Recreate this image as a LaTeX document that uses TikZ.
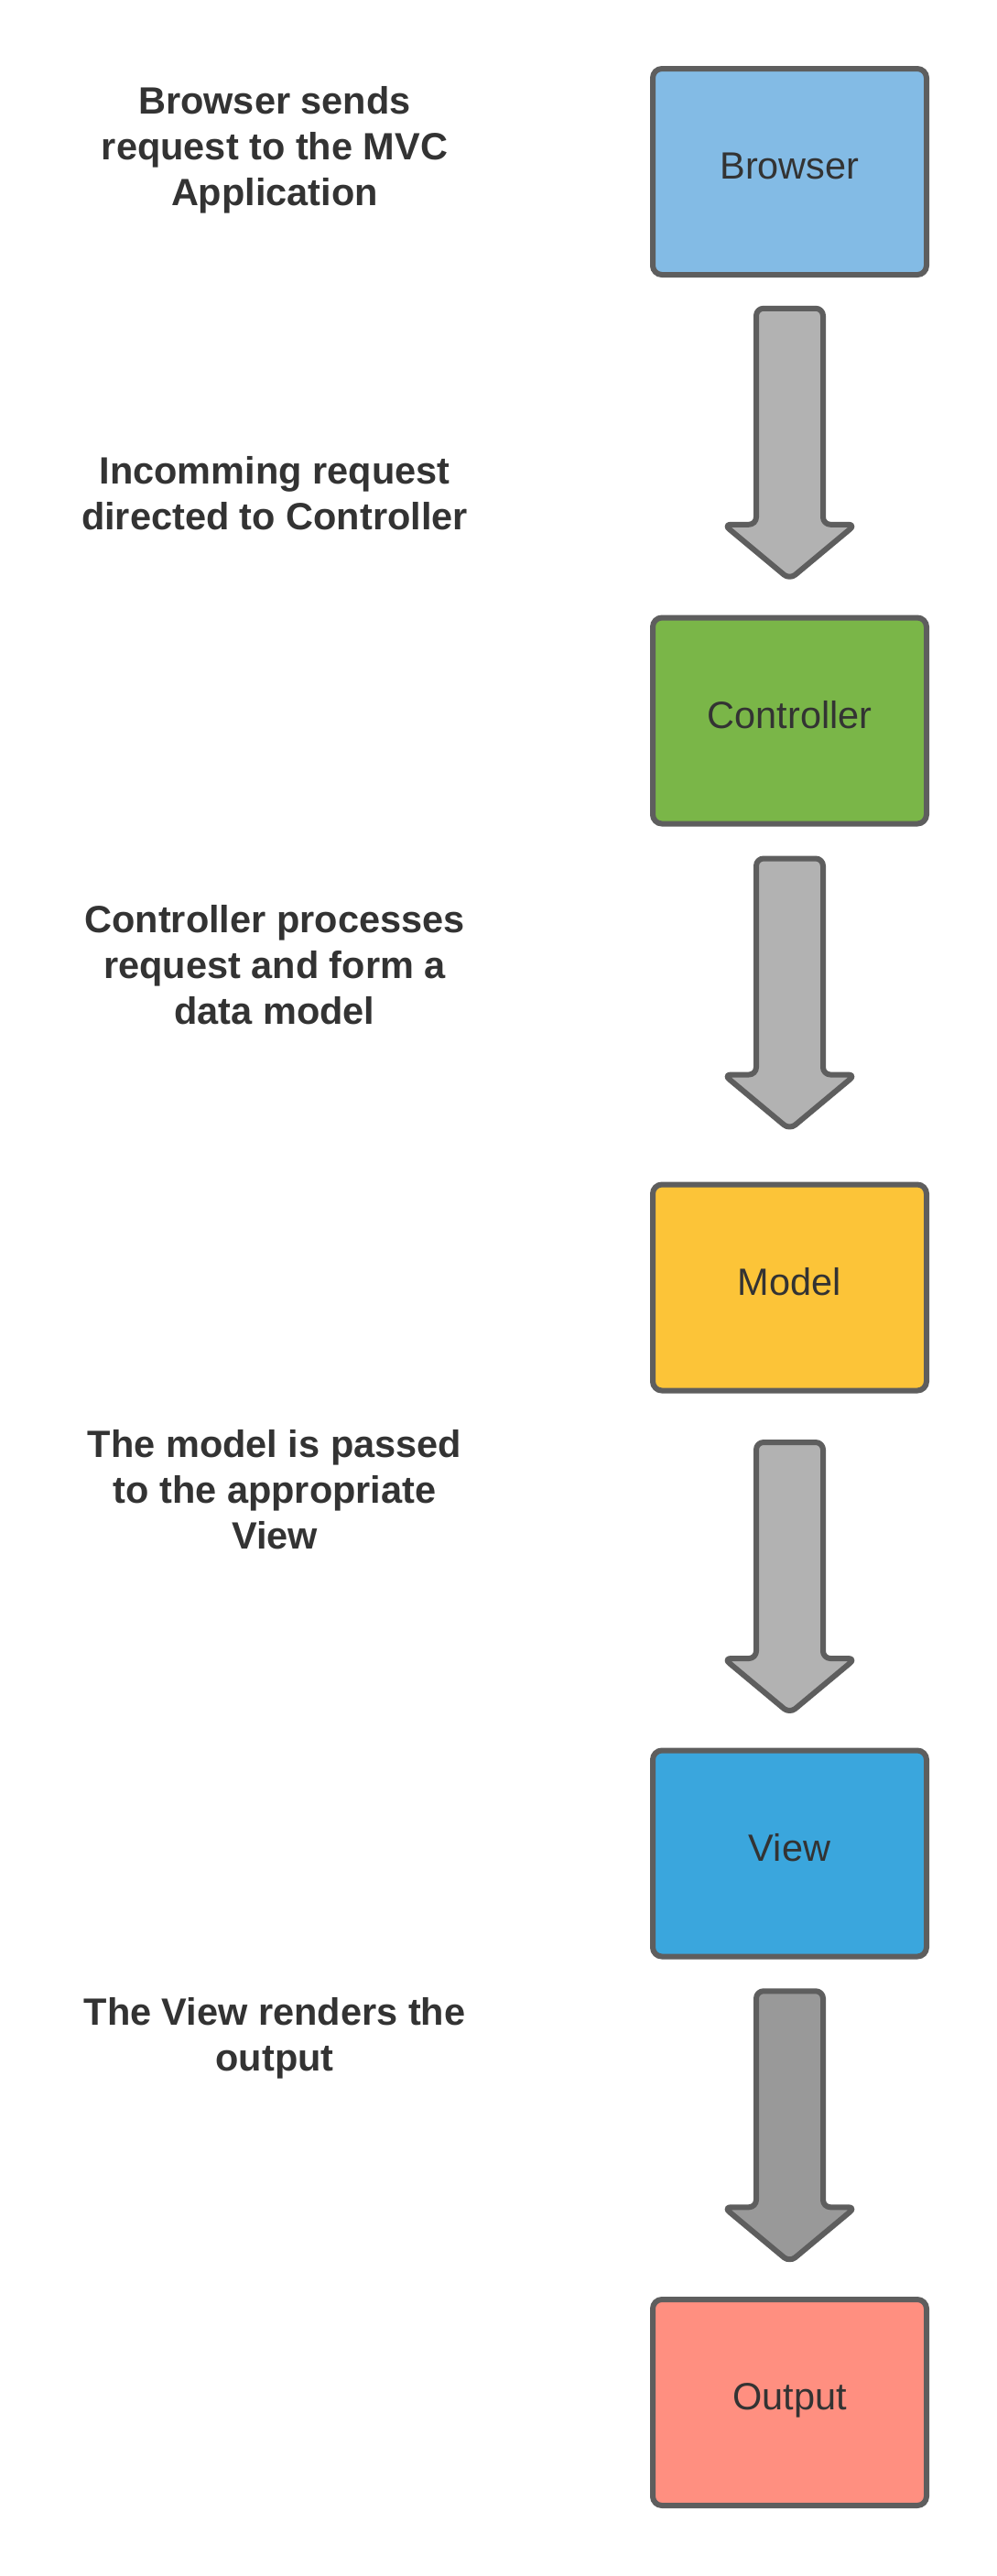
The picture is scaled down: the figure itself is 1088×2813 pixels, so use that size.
\documentclass[tikz,border=0pt]{standalone}
\usepackage{fontspec}
\setmainfont{Liberation Sans}
\usetikzlibrary{calc}

\definecolor{edge}{HTML}{5E5E5E}
\definecolor{ink}{HTML}{333333}
\definecolor{browserblue}{HTML}{83BBE5}
\definecolor{controllergreen}{HTML}{7AB648}
\definecolor{modelyellow}{HTML}{FCC438}
\definecolor{viewblue}{HTML}{3AA6DD}
\definecolor{outputred}{HTML}{FF8F80}
\definecolor{arrowgray}{HTML}{B2B2B2}
\definecolor{arrowdark}{HTML}{999999}

\tikzset{
  stage/.style={draw=edge, line width=3pt, rounded corners=5pt,
    minimum width=149.5pt, minimum height=112.5pt, text=ink,
    font=\fontsize{20.75}{25}\selectfont, text height=15pt, text depth=7pt},
  note/.style={text=ink, align=center, anchor=base,
    font=\bfseries\fontsize{20.75}{25}\selectfont},
  blockarrow/.style={draw=edge, line width=3pt, rounded corners=4pt, line join=round},
}

% block arrow between two stages: from, to, fill, shift
\newcommand{\flowarrow}[4]{
  \coordinate (#1-#2) at ($(#1.south)!0.5!(#2.north)+(0,#4)$);
  \draw[blockarrow, fill=#3] ($(#1-#2)+(-36.5,-147)$) -- ($(#1-#2)+(-36.5,89)$)
    -- ($(#1-#2)+(-72,89)$) -- ($(#1-#2)+(0,149)$) -- ($(#1-#2)+(72,89)$)
    -- ($(#1-#2)+(36.5,89)$) -- ($(#1-#2)+(36.5,-147)$) -- cycle;
}

\def\X{862.5}
\def\T{300}

\begin{document}
\begin{tikzpicture}[x=0.5pt, y=-0.5pt]
    \useasboundingbox (0,0) rectangle (1088,2813);
    \fill[white] (0,0) rectangle (1088,2813);

    \node[stage, fill=browserblue]     (browser)    at (\X,187.5)  {Browser};
    \node[stage, fill=controllergreen] (controller) at (\X,787)    {Controller};
    \node[stage, fill=modelyellow]     (model)      at (\X,1406)   {Model};
    \node[stage, fill=viewblue]        (view)       at (\X,2024)   {View};
    \node[stage, fill=outputred]       (output)     at (\X,2623.5) {Output};

    \node[note] (sendnote)    at (\T,224)  {Browser sends\\request to the MVC\\Application};
    \node[note] (routenote)   at (\T,578)  {Incomming request\\directed to Controller};
    \node[note] (processnote) at (\T,1118) {Controller processes\\request and form a\\data model};
    \node[note] (passnote)    at (\T,1691) {The model is passed\\to the appropriate\\View};
    \node[note] (rendernote)  at (\T,2261) {The View renders the\\output};

    \flowarrow{browser}{controller}{arrowgray}{-3.5}
    \flowarrow{controller}{model}{arrowgray}{-12}
    \flowarrow{model}{view}{arrowgray}{7}
    \flowarrow{view}{output}{arrowdark}{-2.5}
  \end{tikzpicture}
\end{document}
